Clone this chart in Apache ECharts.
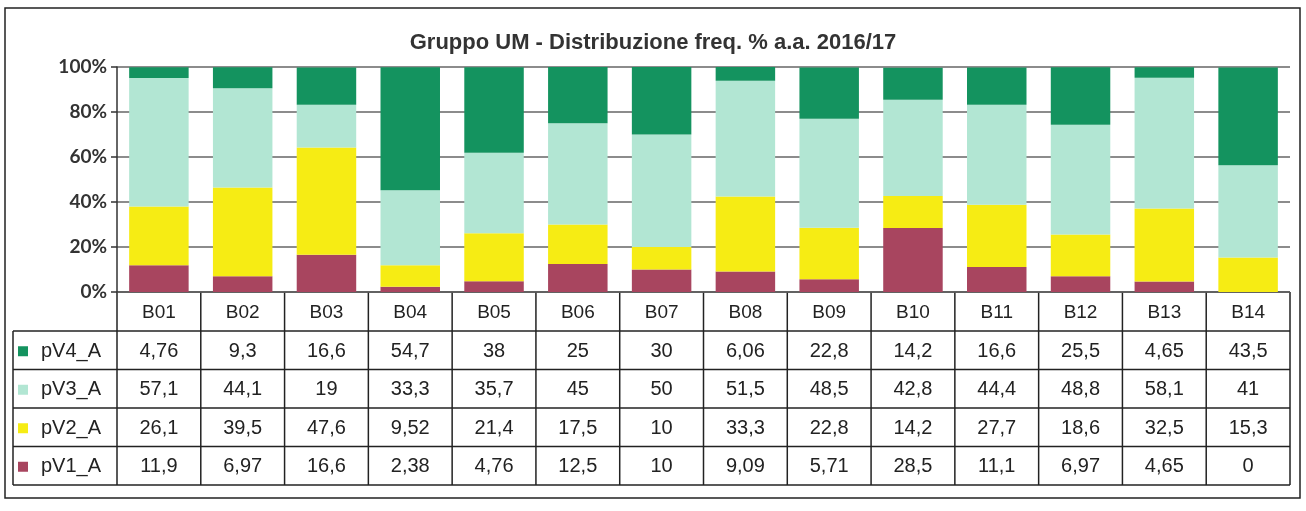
<!DOCTYPE html>
<html lang="it">
<head>
  <meta charset="UTF-8">
  <title>Gruppo UM - Distribuzione freq. %</title>
  <script src="https://cdn.jsdelivr.net/npm/echarts@6/dist/echarts.min.js"></script>
  <style>
    html, body { margin: 0; padding: 0; background: #fff; }
    #main { width: 1306px; height: 511px; }
  </style>
</head>
<body>
<div id="main"></div>
<script>
  // dati
  var categorie = ['B01', 'B02', 'B03', 'B04', 'B05', 'B06', 'B07', 'B08', 'B09', 'B10', 'B11', 'B12', 'B13', 'B14'];
  var pV1 = [11.9, 6.97, 16.6, 2.38, 4.76, 12.5, 10, 9.09, 5.71, 28.5, 11.1, 6.97, 4.65, 0];
  var pV2 = [26.1, 39.5, 47.6, 9.52, 21.4, 17.5, 10, 33.3, 22.8, 14.2, 27.7, 18.6, 32.5, 15.3];
  var pV3 = [57.1, 44.1, 19, 33.3, 35.7, 45, 50, 51.5, 48.5, 42.8, 44.4, 48.8, 58.1, 41];
  var pV4 = [4.76, 9.3, 16.6, 54.7, 38, 25, 30, 6.06, 22.8, 14.2, 16.6, 25.5, 4.65, 43.5];
  var nomiSerie = ['pV1_A', 'pV2_A', 'pV3_A', 'pV4_A'];
  var colori = ['#a8455f', '#f6ec14', '#b2e6d3', '#14935f'];

  var gridLeft = 117, gridRight = 16, gridTop = 67, gridBottom = 219;
  var W = 1306, H = 511;

  var myChart = echarts.init(document.getElementById('main'));

  // tabella dati sotto il grafico
  function tabella() {
    var g = [];
    var linea = { stroke: '#222', lineWidth: 1.5 };
    var fontT = '19px "Liberation Sans", Arial, sans-serif';
    var fontN = '20px "Liberation Sans", Arial, sans-serif';
    var x0 = gridLeft, x1 = W - gridRight;
    var colW = (x1 - x0) / categorie.length;
    var top = H - gridBottom, headH = 39, rowH = 38.5, legL = 13;
    var righe = [
      { nome: nomiSerie[3], dati: pV4, col: colori[3] },
      { nome: nomiSerie[2], dati: pV3, col: colori[2] },
      { nome: nomiSerie[1], dati: pV2, col: colori[1] },
      { nome: nomiSerie[0], dati: pV1, col: colori[0] }
    ];
    var bottom = top + headH + rowH * righe.length;

    // cornice esterna
    g.push({ type: 'rect', shape: { x: 5, y: 8, width: 1295, height: 490 }, style: { fill: 'none', stroke: '#222', lineWidth: 1.5 } });

    // linee orizzontali
    g.push({ type: 'line', shape: { x1: x0, y1: top, x2: x1, y2: top }, style: linea });
    for (var r = 0; r <= righe.length; r++) {
      var y = top + headH + r * rowH;
      g.push({ type: 'line', shape: { x1: legL, y1: y, x2: x1, y2: y }, style: linea });
    }
    // linee verticali
    g.push({ type: 'line', shape: { x1: legL, y1: top + headH, x2: legL, y2: bottom }, style: linea });
    for (var c = 0; c <= categorie.length; c++) {
      var x = x0 + c * colW;
      g.push({ type: 'line', shape: { x1: x, y1: top, x2: x, y2: bottom }, style: linea });
    }
    // intestazioni
    categorie.forEach(function (cat, i) {
      g.push({ type: 'text', x: x0 + (i + 0.5) * colW, y: top + headH / 2 + 1,
        style: { text: cat, font: fontT, fill: '#222', align: 'center', verticalAlign: 'middle' } });
    });
    // righe
    righe.forEach(function (riga, r) {
      var yc = top + headH + (r + 0.5) * rowH + 1;
      g.push({ type: 'rect', shape: { x: legL + 5, y: yc - 5, width: 10, height: 10 }, style: { fill: riga.col } });
      g.push({ type: 'text', x: legL + 28, y: yc,
        style: { text: riga.nome, font: fontN, fill: '#222', align: 'left', verticalAlign: 'middle' } });
      riga.dati.forEach(function (v, i) {
        g.push({ type: 'text', x: x0 + (i + 0.5) * colW, y: yc,
          style: { text: String(v).replace('.', ','), font: fontN, fill: '#222', align: 'center', verticalAlign: 'middle' } });
      });
    });
    return g;
  }

  var serie = [pV1, pV2, pV3, pV4].map(function (d, i) {
    return {
      name: nomiSerie[i],
      type: 'bar',
      stack: 'tot',
      barWidth: '71%',
      itemStyle: { color: colori[i] },
      data: d
    };
  });

  myChart.setOption({
    animation: false,
    title: {
      text: 'Gruppo UM - Distribuzione freq. % a.a. 2016/17',
      left: 'center',
      top: 27,
      textStyle: { fontFamily: '"Liberation Sans", Arial, sans-serif', fontSize: 22, fontWeight: 'bold', color: '#333' }
    },
    grid: { left: gridLeft, right: gridRight, top: gridTop, bottom: gridBottom },
    xAxis: {
      type: 'category',
      data: categorie,
      axisLine: { show: false },
      axisTick: { show: false },
      axisLabel: { show: false }
    },
    yAxis: {
      type: 'value',
      min: 0,
      max: 100,
      interval: 20,
      axisLine: { show: true, lineStyle: { color: '#333', width: 1.5 } },
      axisTick: { show: true, length: 6, lineStyle: { color: '#333', width: 1.5 } },
      axisLabel: { formatter: '{value}%', fontFamily: 'Lato, sans-serif', fontWeight: 'bold', fontSize: 19, color: '#333', margin: 10 },
      splitLine: { lineStyle: { color: '#666', width: 1.5 } }
    },
    series: serie,
    graphic: tabella()
  });
</script>
</body>
</html>
